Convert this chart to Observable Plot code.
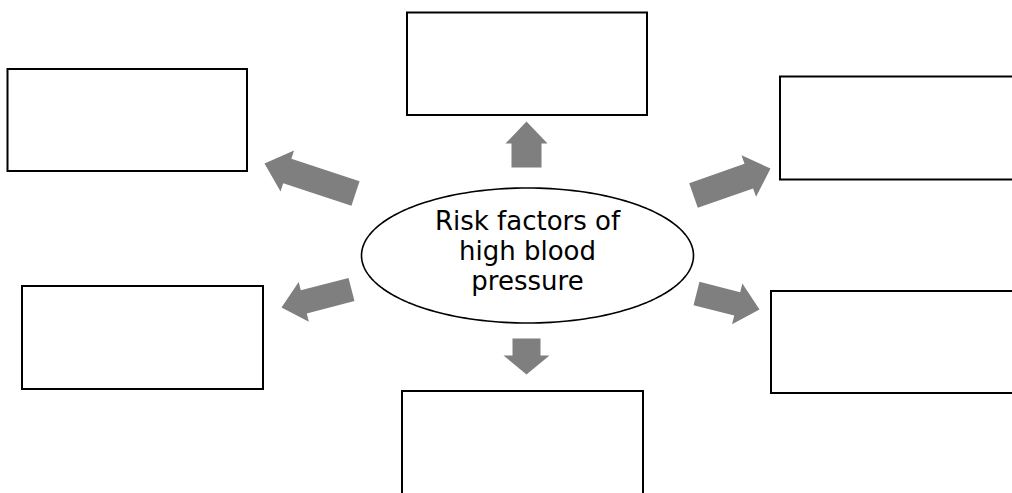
<!DOCTYPE html>
<html>
<head>
<meta charset="utf-8">
<script src="https://cdn.jsdelivr.net/npm/d3@7"></script>
<script src="https://cdn.jsdelivr.net/npm/@observablehq/plot@0.6"></script>
<style>
  html, body { margin: 0; padding: 0; background: #fff; overflow: hidden; }
  svg { display: block; }
</style>
</head>
<body>
<div id="chart"></div>
<script>
// Diagram data (in the diagram's own coordinate space)
const boxNames = ["topLeft", "topCenter", "topRight", "midLeft", "midRight", "bottomCenter"];
const boxX1 = [7.5, 407, 780, 22, 771, 402];
const boxX2 = [247, 647, 1020, 263, 1020, 643];
const boxY1 = [69, 12.5, 76.5, 286, 291, 391];
const boxY2 = [171, 115, 179.5, 389, 393, 510];

const arrowNames = ["up", "down", "upLeft", "upRight", "downLeft", "downRight"];
const arrowTailX = [526, 526, 355, 693, 351, 696];
const arrowTailY = [167, 338, 193, 195, 289, 293];
const arrowTipX  = [526, 526, 264, 770, 281, 759];
const arrowTipY  = [121, 374, 163, 168, 307, 309];
const arrowShaft = [30, 28, 26, 26, 24, 24];
const arrowHead  = [42, 46, 43, 44, 41, 42];
const arrowHeadLen = [22, 19, 24, 23, 23, 23];

const centerLabel = "Risk factors of\nhigh blood\npressure";
const ellipseCx = 527, ellipseCy = 255, ellipseRx = 166, ellipseRy = 67.5;

// Build tables
const boxes = boxNames.map((name, i) => ({name, x1: boxX1[i], x2: boxX2[i], y1: boxY1[i], y2: boxY2[i]}));

const arrowPts = [];
arrowNames.forEach((name, i) => {
  const x0 = arrowTailX[i], y0 = arrowTailY[i], x1 = arrowTipX[i], y1 = arrowTipY[i];
  const dx = x1 - x0, dy = y1 - y0, len = Math.hypot(dx, dy);
  const ux = dx / len, uy = dy / len, nx = -uy, ny = ux;
  const s = arrowShaft[i] / 2, h = arrowHead[i] / 2, L = arrowHeadLen[i];
  const bx = x1 - ux * L, by = y1 - uy * L;
  const pts = [
    [x0 + nx * s, y0 + ny * s],
    [bx + nx * s, by + ny * s],
    [bx + nx * h, by + ny * h],
    [x1, y1],
    [bx - nx * h, by - ny * h],
    [bx - nx * s, by - ny * s],
    [x0 - nx * s, y0 - ny * s]
  ];
  pts.forEach(([x, y]) => arrowPts.push({name, x, y}));
});

const ellipse = d3.range(0, 361, 2).map(a => {
  const t = a * Math.PI / 180;
  return {x: ellipseCx + ellipseRx * Math.cos(t), y: ellipseCy + ellipseRy * Math.sin(t)};
});

const chart = Plot.plot({
  width: 1012,
  height: 493,
  margin: 0,
  x: {domain: [0, 1012], axis: null},
  y: {domain: [0, 493], reverse: true, axis: null},
  style: {fontFamily: "'DejaVu Sans', Verdana, sans-serif", background: "#fff"},
  marks: [
    Plot.rect(boxes, {x1: "x1", x2: "x2", y1: "y1", y2: "y2", fill: "white", stroke: "black", strokeWidth: 2}),
    Plot.line(arrowPts, {x: "x", y: "y", z: "name", fill: "#7f7f7f", stroke: "none", curve: "linear-closed"}),
    Plot.line(ellipse, {x: "x", y: "y", fill: "white", stroke: "black", strokeWidth: 1.6, curve: "linear-closed"}),
    Plot.text([centerLabel], {x: () => ellipseCx, y: () => 250, text: d => d, fontSize: 26, lineHeight: 1.15, lineAnchor: "middle", textAnchor: "middle", fill: "black"})
  ]
});
document.getElementById("chart").appendChild(chart);
</script>
</body>
</html>
